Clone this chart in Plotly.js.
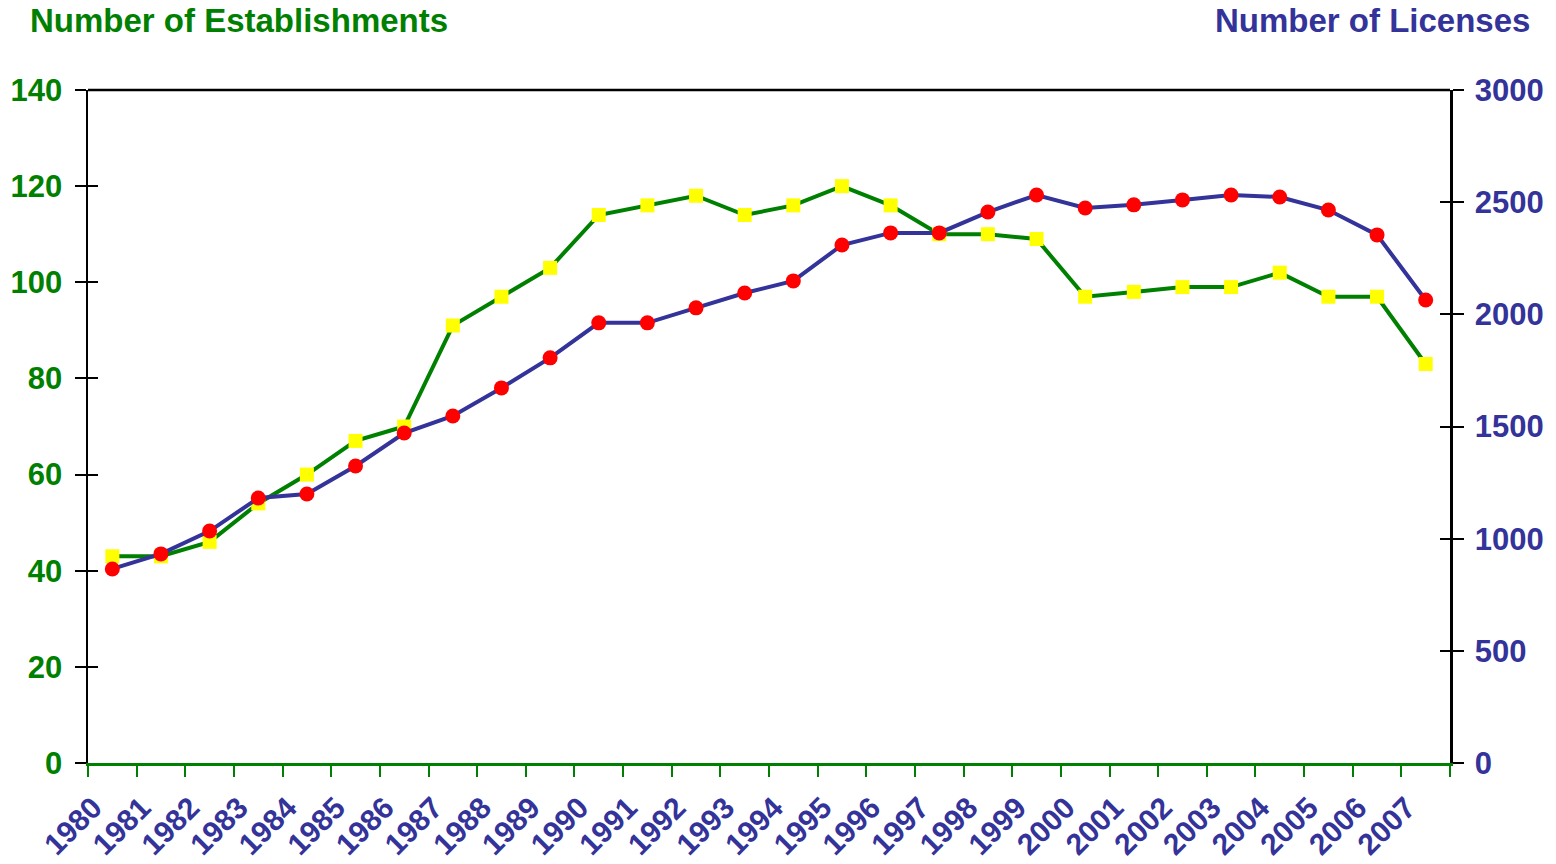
<!DOCTYPE html>
<html>
<head>
<meta charset="utf-8">
<script src="https://cdn.plot.ly/plotly-3.0.1.min.js"></script>
<style>
  html, body { margin: 0; padding: 0; background: #ffffff; }
  #chart { width: 1556px; height: 864px; }
</style>
</head>
<body>
<div id="chart"></div>
<script>
const years = ['1980','1981','1982','1983','1984','1985','1986','1987','1988','1989',
               '1990','1991','1992','1993','1994','1995','1996','1997','1998','1999',
               '2000','2001','2002','2003','2004','2005','2006','2007'];
const establishments = [43,43,46,54,60,67,70,91,97,103,114,116,118,114,116,120,116,110,110,109,97,98,99,99,102,97,97,83];
const licenses = [865,932,1034,1181,1199,1324,1471,1547,1672,1806,1962,1962,2029,2095,2149,2309,2363,2363,2456,2532,2474,2488,2510,2532,2523,2465,2354,2064];
const leftTicks = [0,20,40,60,80,100,120,140];
const rightTicks = [0,500,1000,1500,2000,2500,3000];

const GREEN = '#008000';
const BLUE = '#333399';
const FONT = 'Liberation Sans, Arial, sans-serif';

const traces = [
  {
    x: years, y: establishments, xaxis: 'x', yaxis: 'y',
    type: 'scatter', mode: 'lines+markers', name: 'Number of Establishments',
    line: {color: GREEN, width: 4},
    marker: {symbol: 'square', size: 14, color: '#FFFF00', line: {width: 0}},
    showlegend: false, hoverinfo: 'x+y'
  },
  {
    x: years, y: licenses, xaxis: 'x', yaxis: 'y2',
    type: 'scatter', mode: 'lines+markers', name: 'Number of Licenses',
    line: {color: BLUE, width: 4},
    marker: {symbol: 'circle', size: 15, color: '#FF0000', line: {width: 0}},
    showlegend: false, hoverinfo: 'x+y'
  },
  { x: [], y: [], xaxis: 'x', yaxis: 'y3', type: 'scatter', mode: 'lines', showlegend: false, hoverinfo: 'skip' },
  { x: [], y: [], xaxis: 'x', yaxis: 'y4', type: 'scatter', mode: 'lines', showlegend: false, hoverinfo: 'skip' }
];

const layout = {
  width: 1556, height: 864,
  margin: {l: 88, r: 106, t: 90, b: 101, autoexpand: false},
  paper_bgcolor: '#ffffff', plot_bgcolor: '#ffffff',
  font: {family: FONT},
  showlegend: false,
  xaxis: {
    type: 'category', range: [-0.5, 27.5], tickson: 'boundaries',
    ticks: 'outside', ticklen: 11, tickwidth: 2, tickcolor: GREEN,
    showline: true, linecolor: GREEN, linewidth: 3,
    showgrid: false, zeroline: false, automargin: false,
    tickangle: -45,
    ticklabelstandoff: 12, ticklabelshift: -19,
    tickfont: {family: FONT, size: 30, color: BLUE, weight: 'bold'}
  },
  yaxis: {
    range: [0, 140], tickvals: leftTicks, ticktext: leftTicks.map(String),
    ticks: 'outside', ticklen: 11, tickwidth: 2, tickcolor: '#000000',
    showline: true, linecolor: '#000000', linewidth: 2.5,
    showgrid: false, zeroline: false, automargin: false,
    ticklabelstandoff: 6,
    tickfont: {family: FONT, size: 31, color: GREEN, weight: 'bold'}
  },
  yaxis2: {
    overlaying: 'y', side: 'right', anchor: 'x',
    range: [0, 3000], tickvals: rightTicks, ticktext: rightTicks.map(String),
    ticks: 'outside', ticklen: 11, tickwidth: 2, tickcolor: '#000000',
    showline: true, linecolor: '#000000', linewidth: 2.5,
    showgrid: false, zeroline: false, automargin: false,
    ticklabelstandoff: 5,
    tickfont: {family: FONT, size: 31, color: BLUE, weight: 'bold'}
  },
  yaxis3: {
    overlaying: 'y', side: 'left', anchor: 'x',
    range: [0, 140], tickvals: leftTicks,
    ticks: 'inside', ticklen: 10, tickwidth: 2, tickcolor: '#000000',
    showticklabels: false, showline: false, showgrid: false, zeroline: false
  },
  yaxis4: {
    overlaying: 'y', side: 'right', anchor: 'x',
    range: [0, 3000], tickvals: rightTicks,
    ticks: 'inside', ticklen: 10, tickwidth: 2, tickcolor: '#000000',
    showticklabels: false, showline: false, showgrid: false, zeroline: false
  },
  shapes: [
    {type: 'line', xref: 'paper', yref: 'paper', x0: 0, x1: 1, y0: 1, y1: 1,
     line: {color: '#000000', width: 2.5}}
  ],
  annotations: [
    {text: 'Number of Establishments', xref: 'paper', yref: 'paper',
     x: -0.0441, y: 1.104, xanchor: 'left', yanchor: 'middle', showarrow: false,
     font: {family: FONT, size: 33, color: GREEN, weight: 'bold'}},
    {text: 'Number of Licenses', xref: 'paper', yref: 'paper',
     x: 1.0602, y: 1.104, xanchor: 'right', yanchor: 'middle', showarrow: false,
     font: {family: FONT, size: 33, color: BLUE, weight: 'bold'}}
  ]
};

Plotly.newPlot('chart', traces, layout, {staticPlot: true, displayModeBar: false});
</script>
</body>
</html>
